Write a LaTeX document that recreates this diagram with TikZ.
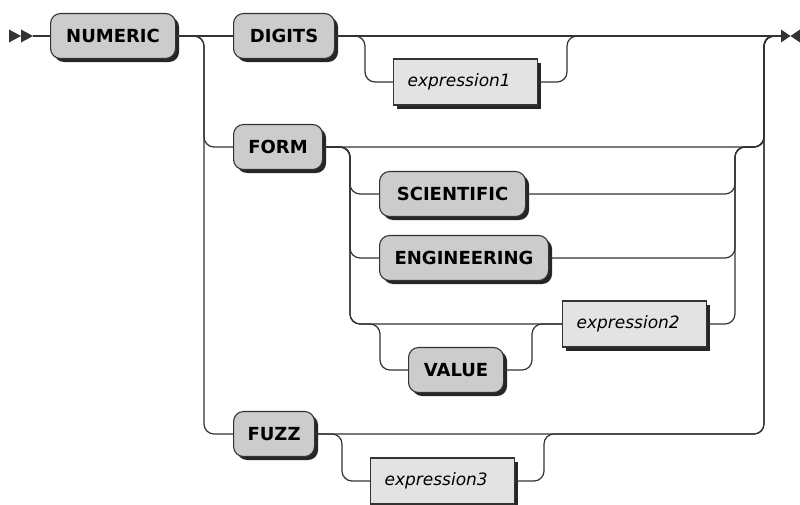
\documentclass[tikz,border=0pt]{standalone}
\usepackage{fontspec}
\setmainfont{DejaVu Sans}
\usetikzlibrary{shadows, positioning}
\definecolor{railgray}{HTML}{333333}
\definecolor{kwfill}{HTML}{CCCCCC}
\definecolor{exfill}{HTML}{E3E3E3}

\begin{document}
\begin{tikzpicture}[x=1pt, y=-1pt,
    kwbox/.style={draw=railgray, line width=1.1pt, rounded corners=10pt, fill=kwfill, font=\fontsize{18}{20}\selectfont\bfseries, minimum height=45pt, anchor=west, drop shadow={shadow xshift=3.5pt, shadow yshift=-3.5pt, opacity=1, fill=black!85}},
    exbox/.style={draw=railgray, line width=1.1pt, fill=exfill, font=\fontsize{17}{20}\selectfont\itshape, inner xsep=14pt, text width=116pt, align=left, minimum height=46pt, anchor=west, drop shadow={shadow xshift=3.5pt, shadow yshift=-3.5pt, opacity=1, fill=black!85}},
    rail/.style={draw=railgray, line width=1.2pt, rounded corners=10pt}
]
    \useasboundingbox (0,0) rectangle (800,504);

    % keywords and expressions
    \node[kwbox, minimum width=125pt] (numeric) at (50,36) {NUMERIC};
    \node[kwbox, minimum width=101pt] (digits) at (233,36) {DIGITS};
    \node[exbox] (expr1) at (393,82) {expression1};
    \node[kwbox, minimum width=89pt] (form) at (233,147) {FORM};
    \node[kwbox, minimum width=146pt] (scientific) at (379,194) {SCIENTIFIC};
    \node[kwbox, minimum width=169pt] (engineering) at (379,258) {ENGINEERING};
    \node[exbox] (expr2) at (562,324) {expression2};
    \node[kwbox, minimum width=95pt] (value) at (408,370) {VALUE};
    \node[kwbox, minimum width=81pt] (fuzz) at (233,434) {FUZZ};
    \node[exbox] (expr3) at (370,481) {expression3};

    % junctions
    \coordinate (start) at (33,36);
    \coordinate (fin) at (781,36);
    \coordinate (rtop) at (764,36);
    \coordinate (jform) at (204,147);
    \coordinate (jfuzz) at (204,434);
    \coordinate (jdig) at (365,82);
    \coordinate (jdigr) at (567,36);
    \coordinate (jsci) at (350,194);
    \coordinate (jeng) at (350,258);
    \coordinate (jval) at (350,324);
    \coordinate (jvaldn) at (380,370);
    \coordinate (jvalup) at (532,324);
    \coordinate (jright) at (735,147);
    \coordinate (jfz) at (342,481);
    \coordinate (jfzr) at (544,434);

    % rails
    \draw[rail] (start) -- (numeric.west);
    \draw[rail] (numeric.east) -- (digits.west);
    \draw[rail] (numeric.east) -| (jform) -- (form.west);
    \draw[rail] (numeric.east) -| (jfuzz) -- (fuzz.west);
    \draw[rail] (digits.east) -- (fin);
    \draw[rail] (digits.east) -| (jdig) -- (expr1.west);
    \draw[rail] (expr1.east) -| (jdigr) -- (fin);
    \draw[rail] (form.east) -| (rtop) -- (fin);
    \draw[rail] (form.east) -| (jsci) -- (scientific.west);
    \draw[rail] (form.east) -| (jeng) -- (engineering.west);
    \draw[rail] (form.east) -| (jval) -- (expr2.west);
    \draw[rail] (form.east) -| (jval) -| (jvaldn) -- (value.west);
    \draw[rail] (value.east) -| (jvalup) -- (expr2.west);
    \draw[rail] (scientific.east) -| (jright) -| (rtop) -- (fin);
    \draw[rail] (engineering.east) -| (jright) -| (rtop) -- (fin);
    \draw[rail] (expr2.east) -| (jright) -| (rtop) -- (fin);
    \draw[rail] (fuzz.east) -| (rtop) -- (fin);
    \draw[rail] (fuzz.east) -| (jfz) -- (expr3.west);
    \draw[rail] (expr3.east) -| (jfzr) -| (rtop) -- (fin);

    % start and end marks
    \fill[railgray] (start) ++(-24,-6.5) -- ++(12,6.5) -- ++(-12,6.5) -- cycle;
    \fill[railgray] (start) ++(-12,-6.5) -- ++(12,6.5) -- ++(-12,6.5) -- cycle;
    \fill[railgray] (fin) ++(0,-6.5) -- ++(9.5,6.5) -- ++(-9.5,6.5) -- cycle;
    \fill[railgray] (fin) ++(19,-6.5) -- ++(-9.5,6.5) -- ++(9.5,6.5) -- cycle;
\end{tikzpicture}
\end{document}
